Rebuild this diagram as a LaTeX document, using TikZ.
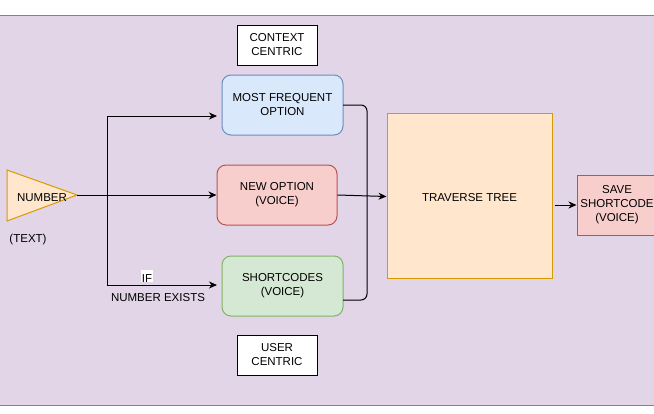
\documentclass[tikz,border=0pt]{standalone}
\usepackage{fontspec}
\setmainfont{Liberation Sans}
\usetikzlibrary{arrows.meta,calc}
\definecolor{bgfill}{HTML}{E1D5E7}
\definecolor{bgline}{HTML}{9673A6}
\definecolor{bluefill}{HTML}{DAE8FC}
\definecolor{blueline}{HTML}{6C8EBF}
\definecolor{redfill}{HTML}{F8CECC}
\definecolor{redline}{HTML}{B85450}
\definecolor{greenfill}{HTML}{D5E8D4}
\definecolor{greenline}{HTML}{82B366}
\definecolor{orfill}{HTML}{FFE6CC}
\definecolor{orline}{HTML}{D79B00}
\tikzset{
  txt/.style={font=\fontsize{11.5}{14}\selectfont, align=center, inner sep=0pt,
    execute at begin node={\rule{0pt}{12.8pt}}},
  plainbox/.style={txt, draw=black, fill=white, line width=1pt, minimum width=80pt, minimum height=40pt},
  rbox/.style={txt, rounded corners=9pt, line width=1pt, minimum width=121pt, minimum height=60pt},
  arr/.style={line width=1pt, -{Stealth[length=8pt,width=7pt,inset=2.5pt]}},
  conn/.style={line width=1pt},
}
\begin{document}
\begin{tikzpicture}[x=1pt,y=-1pt]
\useasboundingbox (0,0) rectangle (654,413);
\fill[white] (0,0) rectangle (654,413);
\draw[fill=bgfill, draw=bgline, line width=1pt] (-3,15) rectangle (657,405);

% nodes
\node[plainbox] (ctx) at (277,45) {CONTEXT\\CENTRIC};
\node[rbox, fill=bluefill, draw=blueline] (mf) at (282.5,105) {MOST FREQUENT\\OPTION};
\node[rbox, fill=redfill, draw=redline, minimum width=120pt] (no) at (277,195) {NEW OPTION\\(VOICE)};
\node[rbox, fill=greenfill, draw=greenline] (sc) at (282.5,286) {SHORTCODES\\(VOICE)};
\node[plainbox] (uc) at (277,355) {USER\\CENTRIC};
\node[txt, fill=orfill, draw=orline, line width=1pt, minimum width=165pt, minimum height=165pt] (tt) at (469.5,195.5) {TRAVERSE TREE};
\node[txt, fill=redfill, draw=redline, line width=1pt, minimum width=80pt, minimum height=60pt] (sv) at (617,205) {SAVE\\SHORTCODE\\(VOICE)};

% number triangle
\draw[fill=orfill, draw=orline, line width=1pt] (7,170) -- (77,195) -- (7,221) -- cycle;
\coordinate (numtip) at (77,195);
\node[txt] (num) at (42,195) {NUMBER};
\node[txt] (numtext) at (28,237) {(TEXT)};

% connectors
\coordinate (br) at (107,195);
\coordinate (mfin) at (217,116);
\coordinate (scin) at (217,285);
\draw[arr] (numtip) -- (no.west);
\draw[arr] (br) |- (mfin);
\draw[arr] (br) |- (scin);
\node[txt, fill=white, inner xsep=1pt, inner ysep=0pt] (iflab) at (147,276) {IF};
\node[txt] (exlab) at (158,295) {NUMBER EXISTS};

\coordinate (mfout) at (343,105);
\coordinate (scout) at (343,300);
\draw[conn, rounded corners=6pt] (mfout) -- (367,105) -- (367,300) -- (scout);
\draw[arr] (no.east) -- ($(tt.west)+(0,1)$);
\draw[arr] ($(tt.east)+(2,9.5)$) -- (sv.west);
\end{tikzpicture}
\end{document}
